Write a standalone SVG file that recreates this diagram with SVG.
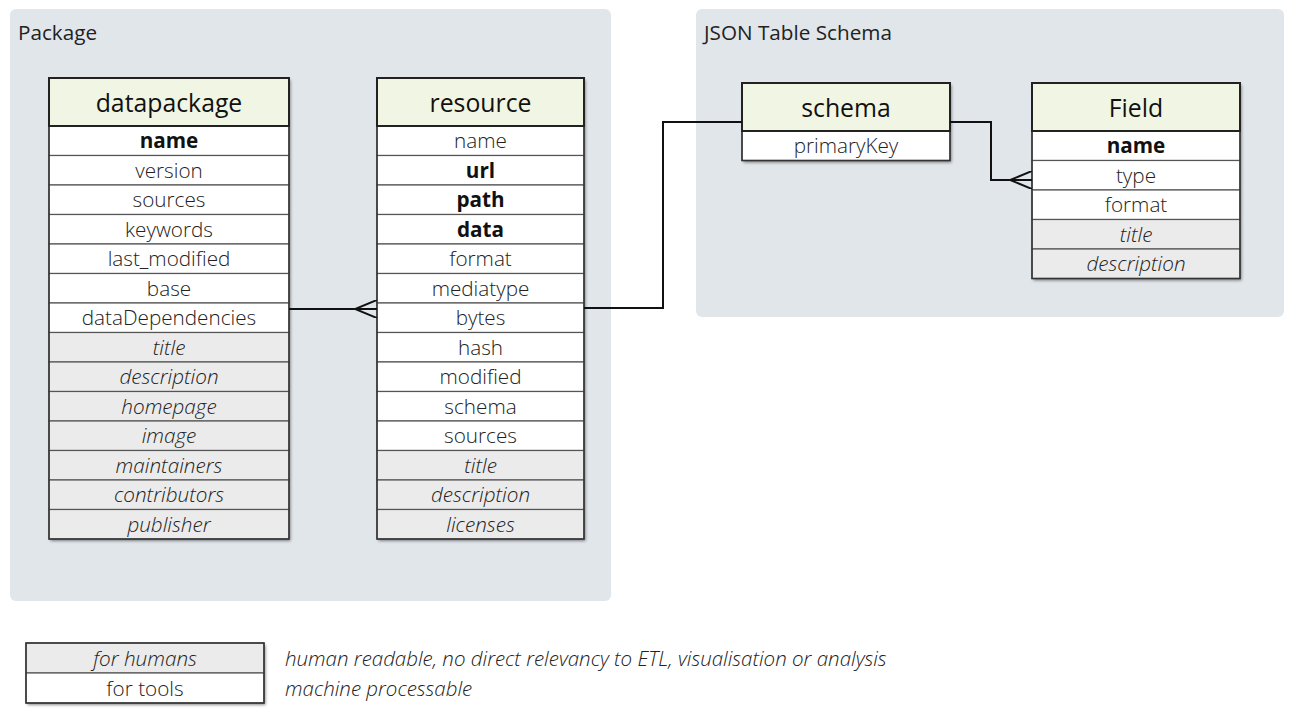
<svg xmlns="http://www.w3.org/2000/svg" width="1293" height="720" viewBox="0 0 1293 720">
<defs>
<filter id="sh" x="-5%" y="-5%" width="112%" height="112%">
<feDropShadow dx="1.5" dy="2" stdDeviation="1.5" flood-color="#000" flood-opacity="0.45"/>
</filter>
<marker id="crow" viewBox="0 0 22 18" refX="22" refY="9" markerWidth="22" markerHeight="18" markerUnits="userSpaceOnUse" orient="auto">
<path d="M22,0 L0,9 L22,18" fill="none" stroke="#111" stroke-width="2"/>
</marker>
</defs>
<style>
text{font-family:"Open Sans","Noto Sans","Liberation Sans",sans-serif;font-weight:300;}
.cont{fill:#e1e6eb;}
.clbl{font-size:20.7px;fill:#222;font-weight:400;}
.hdr{fill:#f1f6e4;stroke:#222;stroke-width:2;}
.htx{font-size:24.8px;fill:#111;text-anchor:middle;font-weight:400;}
.row{fill:#fff;stroke:#555;stroke-width:1.2;}
.gr{fill:#ebebeb;stroke:#555;stroke-width:1.2;}
.rt{font-size:20.7px;fill:#222;text-anchor:middle;}
.b{font-weight:bold;fill:#111;}
.i{font-style:italic;}
.bg{fill:#fff;filter:url(#sh);}
.out{fill:none;stroke:#333;stroke-width:1.5;}
.conn{fill:none;stroke:#111;stroke-width:2;}
.note{font-size:20.5px;fill:#222;font-style:italic;}
</style>

<g id="package">
<rect class="cont" x="10" y="9" width="601" height="592" rx="6"/>
<text class="clbl" x="18" y="40">Package</text>
</g>
<g id="json-table-schema">
<rect class="cont" x="696" y="9" width="588" height="308" rx="6"/>
<text class="clbl" x="704" y="40">JSON Table Schema</text>
</g>

<g id="datapackage">
<rect class="bg" x="49" y="78" width="240" height="461"/>
<rect class="row" x="49" y="126" width="240" height="29.5"/><text class="rt b" x="169" y="148">name</text>
<rect class="row" x="49" y="155.5" width="240" height="29.5"/><text class="rt" x="169" y="177.5">version</text>
<rect class="row" x="49" y="185" width="240" height="29.5"/><text class="rt" x="169" y="207">sources</text>
<rect class="row" x="49" y="214.5" width="240" height="29.5"/><text class="rt" x="169" y="236.5">keywords</text>
<rect class="row" x="49" y="244" width="240" height="29.5"/><text class="rt" x="169" y="266">last_modified</text>
<rect class="row" x="49" y="273.5" width="240" height="29.5"/><text class="rt" x="169" y="295.5">base</text>
<rect class="row" x="49" y="303" width="240" height="29.5"/><text class="rt" x="169" y="325">dataDependencies</text>
<rect class="gr" x="49" y="332.5" width="240" height="29.5"/><text class="rt i" x="169" y="354.5">title</text>
<rect class="gr" x="49" y="362" width="240" height="29.5"/><text class="rt i" x="169" y="384">description</text>
<rect class="gr" x="49" y="391.5" width="240" height="29.5"/><text class="rt i" x="169" y="413.5">homepage</text>
<rect class="gr" x="49" y="421" width="240" height="29.5"/><text class="rt i" x="169" y="443">image</text>
<rect class="gr" x="49" y="450.5" width="240" height="29.5"/><text class="rt i" x="169" y="472.5">maintainers</text>
<rect class="gr" x="49" y="480" width="240" height="29.5"/><text class="rt i" x="169" y="502">contributors</text>
<rect class="gr" x="49" y="509.5" width="240" height="29.5"/><text class="rt i" x="169" y="531.5">publisher</text>
<rect class="out" x="49" y="126" width="240" height="413"/>
<rect class="hdr" x="49" y="78" width="240" height="48"/><text class="htx" x="169" y="112">datapackage</text>
</g>

<g id="resource">
<rect class="bg" x="377" y="78" width="207" height="461"/>
<rect class="row" x="377" y="126" width="207" height="29.5"/><text class="rt" x="480.5" y="148">name</text>
<rect class="row" x="377" y="155.5" width="207" height="29.5"/><text class="rt b" x="480.5" y="177.5">url</text>
<rect class="row" x="377" y="185" width="207" height="29.5"/><text class="rt b" x="480.5" y="207">path</text>
<rect class="row" x="377" y="214.5" width="207" height="29.5"/><text class="rt b" x="480.5" y="236.5">data</text>
<rect class="row" x="377" y="244" width="207" height="29.5"/><text class="rt" x="480.5" y="266">format</text>
<rect class="row" x="377" y="273.5" width="207" height="29.5"/><text class="rt" x="480.5" y="295.5">mediatype</text>
<rect class="row" x="377" y="303" width="207" height="29.5"/><text class="rt" x="480.5" y="325">bytes</text>
<rect class="row" x="377" y="332.5" width="207" height="29.5"/><text class="rt" x="480.5" y="354.5">hash</text>
<rect class="row" x="377" y="362" width="207" height="29.5"/><text class="rt" x="480.5" y="384">modified</text>
<rect class="row" x="377" y="391.5" width="207" height="29.5"/><text class="rt" x="480.5" y="413.5">schema</text>
<rect class="row" x="377" y="421" width="207" height="29.5"/><text class="rt" x="480.5" y="443">sources</text>
<rect class="gr" x="377" y="450.5" width="207" height="29.5"/><text class="rt i" x="480.5" y="472.5">title</text>
<rect class="gr" x="377" y="480" width="207" height="29.5"/><text class="rt i" x="480.5" y="502">description</text>
<rect class="gr" x="377" y="509.5" width="207" height="29.5"/><text class="rt i" x="480.5" y="531.5">licenses</text>
<rect class="out" x="377" y="126" width="207" height="413"/>
<rect class="hdr" x="377" y="78" width="207" height="48"/><text class="htx" x="480.5" y="112">resource</text>
</g>

<g id="schema">
<rect class="bg" x="742" y="83" width="208" height="77.5"/>
<rect class="row" x="742" y="131" width="208" height="29.5"/><text class="rt" x="846" y="153">primaryKey</text>
<rect class="out" x="742" y="131" width="208" height="29.5"/>
<rect class="hdr" x="742" y="83" width="208" height="48"/><text class="htx" x="846" y="117">schema</text>
</g>

<g id="field">
<rect class="bg" x="1032" y="83" width="208" height="195.5"/>
<rect class="row" x="1032" y="131" width="208" height="29.5"/><text class="rt b" x="1136" y="153">name</text>
<rect class="row" x="1032" y="160.5" width="208" height="29.5"/><text class="rt" x="1136" y="182.5">type</text>
<rect class="row" x="1032" y="190" width="208" height="29.5"/><text class="rt" x="1136" y="212">format</text>
<rect class="gr" x="1032" y="219.5" width="208" height="29.5"/><text class="rt i" x="1136" y="241.5">title</text>
<rect class="gr" x="1032" y="249" width="208" height="29.5"/><text class="rt i" x="1136" y="271">description</text>
<rect class="out" x="1032" y="131" width="208" height="147.5"/>
<rect class="hdr" x="1032" y="83" width="208" height="48"/><text class="htx" x="1136" y="117">Field</text>
</g>

<g id="connectors">
<path class="conn" d="M289,309 L377,309" marker-end="url(#crow)"/>
<path class="conn" d="M584,308 L663,308 L663,122 L742,122"/>
<path class="conn" d="M950,122 L991,122 L991,180 L1032,180" marker-end="url(#crow)"/>
</g>

<g id="legend">
<rect class="bg" x="26" y="643" width="238" height="60"/>
<rect class="gr" x="26" y="643" width="238" height="30"/><text class="rt i" x="145" y="666">for humans</text>
<rect class="row" x="26" y="673" width="238" height="30"/><text class="rt" x="145" y="696">for tools</text>
<rect class="out" x="26" y="643" width="238" height="60"/>
<text class="note" x="285" y="666">human readable, no direct relevancy to ETL, visualisation or analysis</text>
<text class="note" x="285" y="696">machine processable</text>
</g>
</svg>
